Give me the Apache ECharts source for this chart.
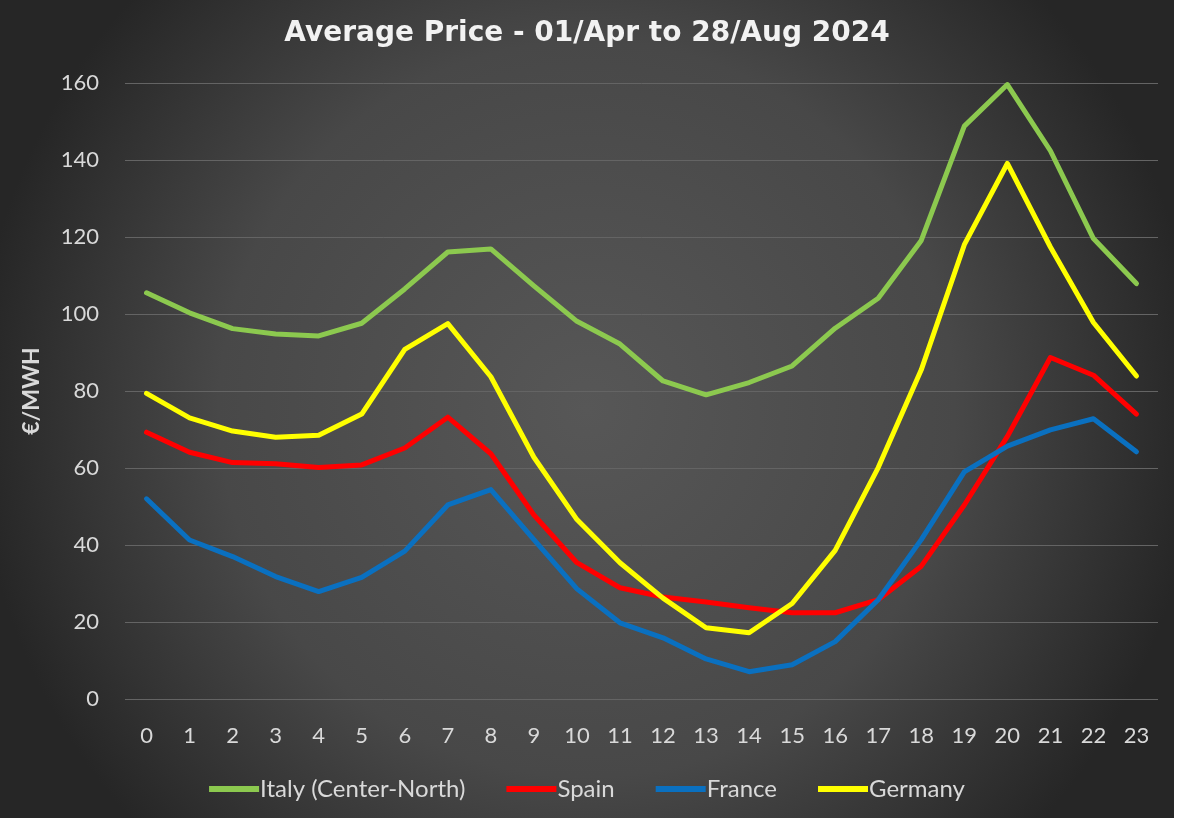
<!DOCTYPE html>
<html>
<head>
<meta charset="utf-8">
<title>Average Price</title>
<script src="https://cdn.jsdelivr.net/npm/echarts@6/dist/echarts.min.js"></script>
<style>
  html, body { margin: 0; padding: 0; background: #fff; }
  #main { width: 1174px; height: 818px; }
</style>
</head>
<body>
<div id="main"></div>
<script>
// hours of the day
var hours = ['0','1','2','3','4','5','6','7','8','9','10','11','12','13','14','15','16','17','18','19','20','21','22','23'];

// average price per hour, €/MWh
var italy   = [105.5, 100.3, 96.2, 94.8, 94.3, 97.6, 106.5, 116.1, 116.9, 107.3, 98.1, 92.2, 82.6, 79.0, 82.2, 86.5, 96.3, 104.1, 119.1, 148.8, 159.6, 142.4, 119.6, 107.9];
var spain   = [69.3, 64.1, 61.4, 61.1, 60.1, 60.8, 65.2, 73.2, 63.7, 47.8, 35.4, 28.9, 26.5, 25.2, 23.7, 22.4, 22.4, 25.8, 34.5, 50.4, 68.2, 88.7, 84.1, 74.0];
var france  = [52.0, 41.3, 37.0, 31.8, 27.9, 31.6, 38.4, 50.4, 54.4, 41.4, 28.6, 19.8, 15.9, 10.4, 7.1, 8.9, 14.9, 25.8, 41.4, 59.0, 65.7, 69.9, 72.8, 64.2];
var germany = [79.4, 73.0, 69.6, 68.0, 68.5, 74.0, 90.8, 97.5, 83.7, 62.8, 46.6, 35.4, 26.2, 18.5, 17.2, 24.8, 38.6, 60.1, 85.5, 118.0, 139.1, 117.4, 97.8, 83.9];

// y axis ticks
var yMin = 0, yMax = 160, yStep = 20;

var labelColor = '#d9d9d9';
var font = 'Lato, "Open Sans", sans-serif';

function lineSeries(name, data, color) {
	return {
		name: name,
		type: 'line',
		data: data,
		symbol: 'none',
		lineStyle: { width: 5, color: color, cap: 'round', join: 'round' },
		itemStyle: { color: color }
	};
}

var myChart = echarts.init(document.getElementById('main'));
var option = {
	backgroundColor: {
		type: 'radial', x: 0.5, y: 0.5, r: 0.75,
		colorStops: [
			{ offset: 0, color: '#575757' },
			{ offset: 0.6, color: '#484848' },
			{ offset: 1, color: '#262626' }
		]
	},
	textStyle: { fontFamily: font },
	title: {
		text: 'Average Price - 01/Apr to 28/Aug 2024',
		left: 'center',
		top: 15,
		textStyle: { color: '#f2f2f2', fontSize: 28, fontWeight: 'bold', fontFamily: '"DejaVu Sans", sans-serif' }
	},
	grid: { left: 125, right: 16, top: 83, bottom: 119, containLabel: false },
	legend: {
		bottom: 12,
		left: 'center',
		itemWidth: 50,
		itemHeight: 6,
		itemGap: 41,
		icon: 'rect',
		textStyle: { color: labelColor, fontSize: 24, fontFamily: font, padding: [0, 0, 0, -4] },
		data: ['Italy (Center-North)', 'Spain', 'France', 'Germany']
	},
	xAxis: {
		type: 'category',
		data: hours,
		boundaryGap: true,
		axisLine: { show: false },
		axisTick: { show: false },
		axisLabel: { color: labelColor, fontSize: 22, margin: 26, fontFamily: font }
	},
	yAxis: {
		type: 'value',
		min: yMin,
		max: yMax,
		interval: yStep,
		name: '€/MWH',
		nameLocation: 'middle',
		nameGap: 82,
		nameRotate: 90,
		nameTextStyle: { color: labelColor, fontSize: 23, fontWeight: 'bold', fontFamily: font },
		axisLine: { show: false },
		axisTick: { show: false },
		axisLabel: { color: labelColor, fontSize: 22, margin: 26, fontFamily: font },
		splitLine: { lineStyle: { color: '#646464', width: 1 } }
	},
	series: [
		lineSeries('Italy (Center-North)', italy, '#8cc94f'),
		lineSeries('Spain', spain, '#ff0000'),
		lineSeries('France', france, '#0a70c0'),
		lineSeries('Germany', germany, '#ffff00')
	]
};
myChart.setOption(option);
</script>
</body>
</html>
